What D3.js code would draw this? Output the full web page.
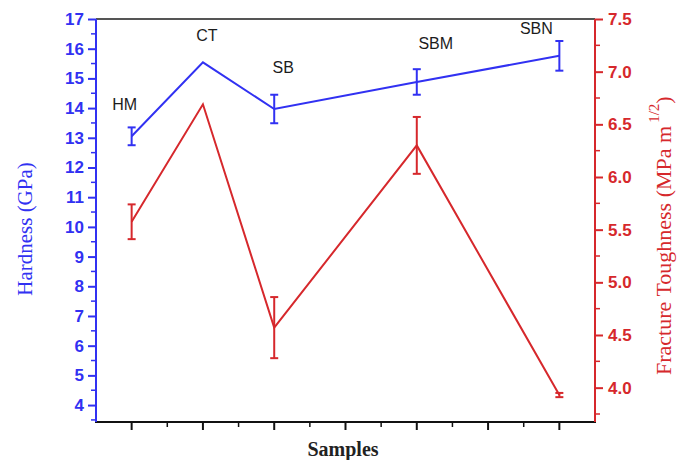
<!DOCTYPE html>
<html>
<head>
<meta charset="utf-8">
<script src="https://cdn.jsdelivr.net/npm/d3@7.9.0/dist/d3.min.js"></script>
<style>
  html, body { margin: 0; padding: 0; background: #fff; }
  svg { display: block; }
</style>
</head>
<body>
<svg id="chart" width="687" height="460"></svg>
<script>
const samples = ["HM", "CT", "SB", "SBM", "SBN"];
const samplePos = [1, 2, 3, 5, 7];
const hardness = [13.05, 15.54, 13.97, 14.88, 15.76];
const hardnessErr = [0.3, 0, 0.48, 0.43, 0.5];
const toughness = [5.575, 6.69, 4.57, 6.3, 3.93];
const toughnessErr = [0.165, 0, 0.29, 0.27, 0.02];
const hardnessTicks = d3.range(4, 18, 1);
const toughnessTicks = [4.0, 4.5, 5.0, 5.5, 6.0, 6.5, 7.0, 7.5];

const blue = "#3131f2";
const red = "#d6282c";

const margin = { left: 96, right: 92, top: 19, bottom: 38 };
const W = 687, H = 460;

const svg = d3.select("#chart");

const x = d3.scaleLinear().domain([0.5, 7.5]).range([margin.left, W - margin.right]);
const yH = d3.scaleLinear().domain([3.43, 17]).range([H - margin.bottom, margin.top]);
const yT = d3.scaleLinear().domain([3.674, 7.5]).range([H - margin.bottom, margin.top]);

const bottom = H - margin.bottom;

// top frame line
svg.append("line")
  .attr("x1", x(0.5)).attr("x2", x(7.5))
  .attr("y1", margin.top).attr("y2", margin.top)
  .attr("stroke", "#555").attr("stroke-width", 2);

// bottom axis: major ticks at 1..7, minor at halves
const xAxis = svg.append("g").attr("transform", `translate(0,${bottom})`);
xAxis.append("line")
  .attr("x1", x(0.5) - 1).attr("x2", x(7.5) + 1)
  .attr("stroke", "#111").attr("stroke-width", 2);
xAxis.selectAll("line.major")
  .data(d3.range(1, 8))
  .join("line").attr("class", "major")
  .attr("x1", (d) => x(d)).attr("x2", (d) => x(d))
  .attr("y1", 0).attr("y2", 8)
  .attr("stroke", "#111").attr("stroke-width", 2);
xAxis.selectAll("line.minor")
  .data(d3.range(1.5, 7.5, 1))
  .join("line").attr("class", "minor")
  .attr("x1", (d) => x(d)).attr("x2", (d) => x(d))
  .attr("y1", 0).attr("y2", 5)
  .attr("stroke", "#111").attr("stroke-width", 1.5);

// left axis
const leftAxis = svg.append("g")
  .attr("transform", `translate(${margin.left},0)`)
  .call(d3.axisLeft(yH).tickValues(hardnessTicks).tickSize(8).tickPadding(4).tickFormat(d3.format("d")));
leftAxis.select(".domain").remove();
leftAxis.append("line")
  .attr("y1", margin.top).attr("y2", bottom)
  .attr("stroke", blue).attr("stroke-width", 2);
leftAxis.selectAll(".tick line").attr("stroke", blue).attr("stroke-width", 2);
leftAxis.selectAll("line.minor")
  .data(d3.range(4.5, 17, 1).concat([3.5]))
  .join("line").attr("class", "minor")
  .attr("x1", -5).attr("x2", 0)
  .attr("y1", (d) => yH(d)).attr("y2", (d) => yH(d))
  .attr("stroke", blue).attr("stroke-width", 1.5);
leftAxis.selectAll(".tick text")
  .attr("fill", blue)
  .style("font-family", "Liberation Sans, Arial, sans-serif")
  .style("font-size", "17px")
  .style("font-weight", "bold");

// right axis
const rightAxis = svg.append("g")
  .attr("transform", `translate(${W - margin.right},0)`)
  .call(d3.axisRight(yT).tickValues(toughnessTicks).tickSize(8).tickPadding(5).tickFormat(d3.format(".1f")));
rightAxis.select(".domain").remove();
rightAxis.append("line")
  .attr("y1", margin.top).attr("y2", bottom)
  .attr("stroke", red).attr("stroke-width", 2);
rightAxis.selectAll(".tick line").attr("stroke", red).attr("stroke-width", 2);
rightAxis.selectAll("line.minor")
  .data(d3.range(3.75, 7.5, 0.5))
  .join("line").attr("class", "minor")
  .attr("x1", 0).attr("x2", 5)
  .attr("y1", (d) => yT(d)).attr("y2", (d) => yT(d))
  .attr("stroke", red).attr("stroke-width", 1.5);
rightAxis.selectAll(".tick text")
  .attr("fill", red)
  .style("font-family", "Liberation Sans, Arial, sans-serif")
  .style("font-size", "17px")
  .style("font-weight", "bold");

// axis titles
svg.append("text")
  .attr("transform", `translate(32,229) rotate(-90)`)
  .attr("text-anchor", "middle")
  .attr("fill", blue)
  .style("font-family", "Liberation Serif, Times New Roman, serif")
  .style("font-size", "21px")
  .text("Hardness (GPa)");

const rt = svg.append("text")
  .attr("transform", `translate(671,375) rotate(-90)`)
  .attr("text-anchor", "start")
  .attr("fill", red)
  .style("font-family", "Liberation Serif, Times New Roman, serif")
  .style("font-size", "22px");
rt.append("tspan").text("Fracture Toughness (MPa m");
rt.append("tspan").attr("dy", -12).attr("dx", 3).style("font-size", "15px").text("1/2");
rt.append("tspan").attr("dy", 12).text(")");

svg.append("text")
  .attr("x", 343).attr("y", 456)
  .attr("text-anchor", "middle")
  .attr("fill", "#222")
  .style("font-family", "Liberation Serif, Times New Roman, serif")
  .style("font-size", "20px")
  .style("font-weight", "bold")
  .text("Samples");

// series
const hData = samples.map((s, i) => ({ s, x: samplePos[i], v: hardness[i], e: hardnessErr[i] }));
const tData = samples.map((s, i) => ({ s, x: samplePos[i], v: toughness[i], e: toughnessErr[i] }));

function drawSeries(data, y, color) {
  const g = svg.append("g");
  g.append("path")
    .datum(data)
    .attr("fill", "none")
    .attr("stroke", color)
    .attr("stroke-width", 2)
    .attr("d", d3.line().x((d) => x(d.x)).y((d) => y(d.v)));
  const eb = g.selectAll("g.err").data(data.filter((d) => d.e > 0)).join("g").attr("class", "err")
    .attr("stroke", color).attr("stroke-width", 2);
  eb.append("line")
    .attr("x1", (d) => x(d.x)).attr("x2", (d) => x(d.x))
    .attr("y1", (d) => y(d.v - d.e)).attr("y2", (d) => y(d.v + d.e));
  eb.append("line")
    .attr("x1", (d) => x(d.x) - 4).attr("x2", (d) => x(d.x) + 4)
    .attr("y1", (d) => y(d.v - d.e)).attr("y2", (d) => y(d.v - d.e));
  eb.append("line")
    .attr("x1", (d) => x(d.x) - 4).attr("x2", (d) => x(d.x) + 4)
    .attr("y1", (d) => y(d.v + d.e)).attr("y2", (d) => y(d.v + d.e));
}

drawSeries(tData, yT, red);
drawSeries(hData, yH, blue);

// sample labels placed above hardness points
const labelOffset = { HM: [-7, 26], CT: [4, 21], SB: [9, 36], SBM: [19, 33], SBN: [-23, 22] };
svg.selectAll("text.sample")
  .data(hData)
  .join("text").attr("class", "sample")
  .attr("x", (d) => x(d.x) + labelOffset[d.s][0])
  .attr("y", (d) => yH(d.v) - labelOffset[d.s][1])
  .attr("text-anchor", "middle")
  .attr("fill", "#1c1c1c")
  .style("font-family", "Liberation Sans, Arial, sans-serif")
  .style("font-size", "16px")
  .text((d) => d.s);
</script>
</body>
</html>
